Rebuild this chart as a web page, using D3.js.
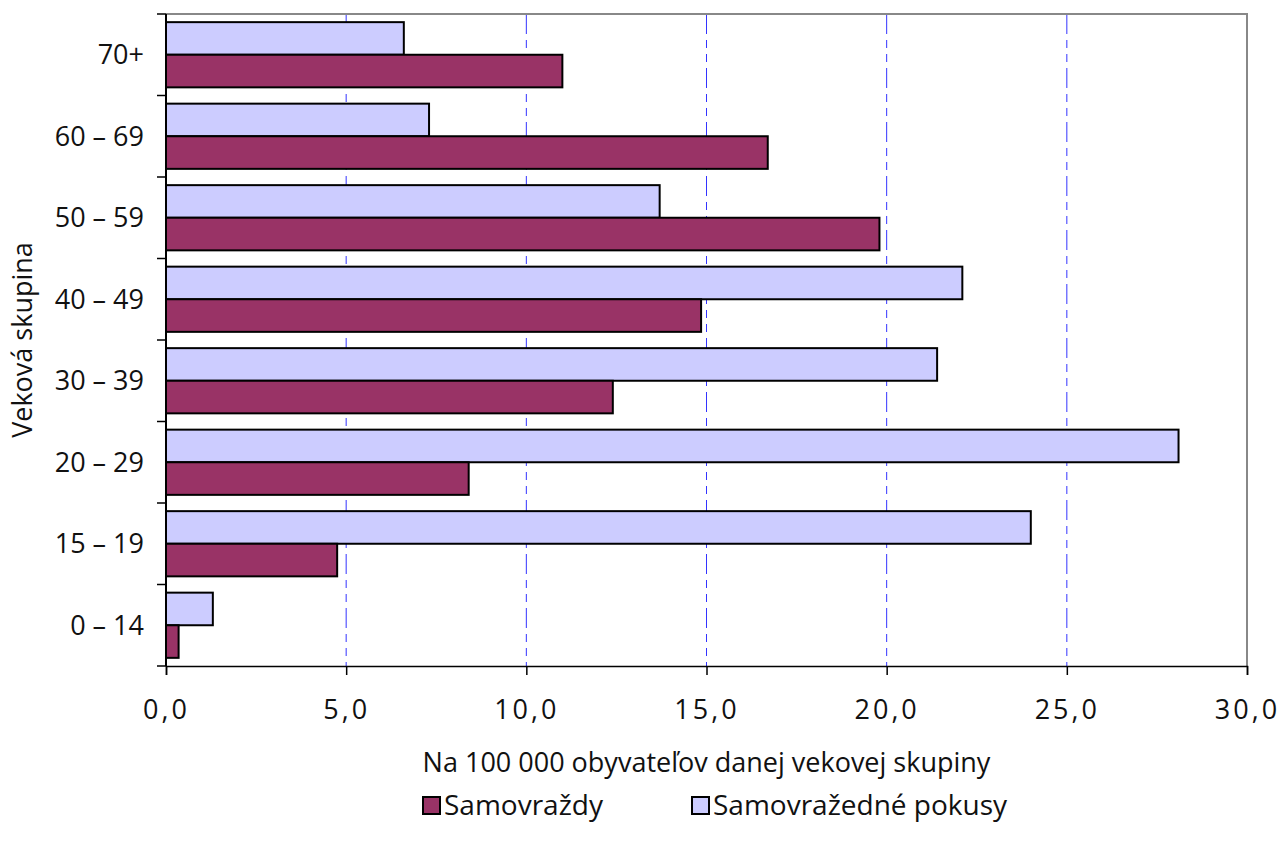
<!DOCTYPE html>
<html>
<head>
<meta charset="utf-8">
<script src="https://cdn.jsdelivr.net/npm/d3@7"></script>
<style>
  body { margin: 0; background: #fff; }
  text { font-family: "Open Sans", Lato, sans-serif; fill: #111; }
</style>
</head>
<body>
<div id="chart"></div>
<script>
// Data (top to bottom)
const groups = ['70+', '60 – 69', '50 – 59', '40 – 49', '30 – 39', '20 – 29', '15 – 19', '0 – 14'];
const samovrazdy = [11.0, 16.7, 19.8, 14.85, 12.4, 8.4, 4.75, 0.35];
const pokusy = [6.6, 7.3, 13.7, 22.1, 21.4, 28.1, 24.0, 1.3];
const xTicks = [0, 5, 10, 15, 20, 25, 30];
const seriesNames = ['Samovraždy', 'Samovražedné pokusy'];
const colors = { samovrazdy: '#993366', pokusy: '#ccccff' };

const config = { width: 1279, height: 850, left: 166, right: 1247, top: 14, bottom: 666, fontSize: 27 };

const svg = d3.select('#chart').append('svg')
    .attr('width', config.width)
    .attr('height', config.height);

const x = d3.scaleLinear().domain([0, 30]).range([config.left, config.right]);
const y = d3.scaleBand().domain(groups).range([config.top, config.bottom]).paddingInner(0.2).paddingOuter(0.1);
const yTick = d3.scaleBand().domain(groups).range([config.top, config.bottom]);

// Gridlines
svg.append('g').selectAll('line')
    .data(xTicks.slice(1, -1))
    .join('line')
    .attr('x1', d => x(d)).attr('x2', d => x(d))
    .attr('y1', config.top).attr('y2', config.bottom)
    .attr('stroke', '#3333ff')
    .attr('stroke-width', 1)
    .attr('stroke-dasharray', '20,6,8,6,8,6');

// Plot border top/right
svg.append('path')
    .attr('d', `M${config.left},${config.top}H${config.right}V${config.bottom}`)
    .attr('fill', 'none')
    .attr('stroke', '#888')
    .attr('stroke-width', 2);

// Bars
const bh = y.bandwidth() / 2;
const bars = svg.append('g');
bars.selectAll('.pokus')
    .data(groups)
    .join('rect')
    .attr('x', x(0))
    .attr('y', d => y(d))
    .attr('width', (d, i) => x(pokusy[i]) - x(0))
    .attr('height', bh)
    .attr('fill', colors.pokusy)
    .attr('stroke', '#000')
    .attr('stroke-width', 2);
bars.selectAll('.samo')
    .data(groups)
    .join('rect')
    .attr('x', x(0))
    .attr('y', d => y(d) + bh)
    .attr('width', (d, i) => x(samovrazdy[i]) - x(0))
    .attr('height', bh)
    .attr('fill', colors.samovrazdy)
    .attr('stroke', '#000')
    .attr('stroke-width', 2);

// Axes
const fmt = d => d3.format('.1f')(d).replace('.', ',');
const xAxis = svg.append('g')
    .attr('transform', `translate(0,${config.bottom})`)
    .call(d3.axisBottom(x).tickValues(xTicks).tickFormat(fmt).tickSize(9).tickPadding(25));
xAxis.select('.domain').attr('stroke', '#000').attr('stroke-width', 1.5);
xAxis.selectAll('.tick line').attr('stroke', '#000').attr('stroke-width', 1.5);
xAxis.selectAll('text')
    .attr('font-size', config.fontSize)
    .attr('letter-spacing', 3)
    .attr('fill', '#111');

// y axis: ticks between categories
const yAxis = svg.append('g');
yAxis.append('line')
    .attr('x1', config.left).attr('x2', config.left)
    .attr('y1', config.top).attr('y2', config.bottom)
    .attr('stroke', '#000').attr('stroke-width', 2);
yAxis.selectAll('.yt')
    .data(groups.concat(['end']))
    .join('line')
    .attr('x1', config.left - 9).attr('x2', config.left)
    .attr('y1', (d, i) => i < groups.length ? yTick(d) : config.bottom)
    .attr('y2', (d, i) => i < groups.length ? yTick(d) : config.bottom)
    .attr('stroke', '#000').attr('stroke-width', 1.5);
yAxis.selectAll('.yl')
    .data(groups)
    .join('text')
    .attr('x', config.left - 22)
    .attr('y', d => yTick(d) + yTick.bandwidth() / 2)
    .attr('dy', '0.35em')
    .attr('text-anchor', 'end')
    .attr('font-size', config.fontSize)
    .text(d => d);

// Axis titles
svg.append('text')
    .attr('x', (config.left + config.right) / 2)
    .attr('y', 772)
    .attr('text-anchor', 'middle')
    .attr('font-size', config.fontSize)
    .text('Na 100 000 obyvateľov danej vekovej skupiny');
svg.append('text')
    .attr('transform', `translate(32,${(config.top + config.bottom) / 2}) rotate(-90)`)
    .attr('text-anchor', 'middle')
    .attr('font-size', config.fontSize)
    .text('Veková skupina');

// Legend
const legend = svg.append('g');
const legendItems = [
    { name: seriesNames[0], color: colors.samovrazdy, x: 423 },
    { name: seriesNames[1], color: colors.pokusy, x: 692 }
];
legend.selectAll('rect')
    .data(legendItems)
    .join('rect')
    .attr('x', d => d.x).attr('y', 797)
    .attr('width', 17).attr('height', 17)
    .attr('fill', d => d.color)
    .attr('stroke', '#000').attr('stroke-width', 2);
legend.selectAll('text')
    .data(legendItems)
    .join('text')
    .attr('x', d => d.x + 21).attr('y', 815)
    .attr('font-size', 28)
    .text(d => d.name);
</script>
</body>
</html>
